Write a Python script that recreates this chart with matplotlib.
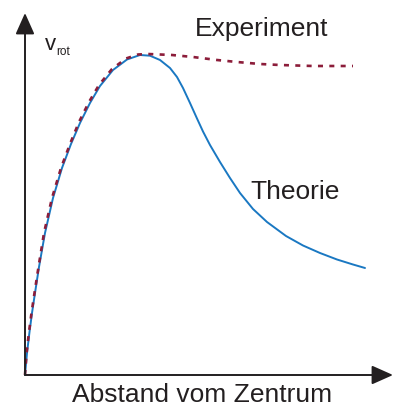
import matplotlib
import matplotlib.pyplot as plt
from matplotlib.patches import ArrowStyle

matplotlib.use("Agg")

plt.rcParams["font.family"] = ["Liberation Sans", "DejaVu Sans"]

W, H = 394, 408

# curve points (pixel positions, y down)
theorie_px = [
    (25, 375), (27, 353), (29.5, 332), (32, 313), (35, 293), (39, 267),
    (45, 233), (53, 198), (62, 168), (71, 144), (80, 123), (90, 103),
    (100, 86), (113, 70), (127, 59.5), (140, 55), (150, 55.7), (160, 60),
    (170, 68), (177, 77), (183, 88), (190, 103), (197, 118.5),
    (203, 131.5), (210, 145), (220, 162), (230, 178), (240, 193),
    (253, 209), (267, 222), (286, 236), (303, 245.5), (320, 253),
    (337, 259.5), (353, 264.5), (365, 268),
]
experiment_px = [
    (25, 375), (26.6, 353), (29, 332), (31.5, 313), (34.5, 293),
    (38.5, 267), (44, 233), (52, 198), (61, 168), (70, 144), (79, 122),
    (89, 102), (99, 85), (112, 69), (126, 58.5), (138, 54.5), (148, 54),
    (172, 55), (193, 57), (217, 60), (237, 62), (260, 64), (280, 65),
    (313, 66), (353, 66),
]

x0, y0 = 25, 375      # origin
x1, y1 = 393, 13      # arrow tips


def to_data(pts):
    xs = [(p[0] - x0) / (x1 - x0) * 10 for p in pts]
    ys = [(y0 - p[1]) / (y0 - y1) * 10 for p in pts]
    return xs, ys


fig = plt.figure(figsize=(W / 100, H / 100), dpi=100)
ax = fig.add_axes([x0 / W, 1 - y0 / H, (x1 - x0) / W, (y0 - y1) / H])
ax.set_xlim(0, 10)
ax.set_ylim(0, 10)
ax.axis("off")

tx, ty = to_data(theorie_px)
ex, ey = to_data(experiment_px)

ax.plot(tx, ty, color="#1a78c2", lw=1.4, solid_capstyle="round",
        solid_joinstyle="round", clip_on=False)
ax.plot(ex, ey, color="#8c1d3a", lw=1.9, dashes=(1.9, 2.4),
        dash_capstyle="butt", clip_on=False)

# axes with arrows
axis_col = "#231f20"
style = ArrowStyle("-|>", head_length=13, head_width=5.8)
ax.annotate("", xy=(10, 0), xytext=(0, 0),
            arrowprops=dict(arrowstyle=style, mutation_scale=1, color=axis_col,
                            lw=1.4, shrinkA=0, shrinkB=0), annotation_clip=False)
ax.annotate("", xy=(0, 10), xytext=(0, 0),
            arrowprops=dict(arrowstyle=style, mutation_scale=1, color=axis_col,
                            lw=1.4, shrinkA=0, shrinkB=0), annotation_clip=False)

# labels
txt_col = "#231f20"
fig.text(45 / W, 1 - 50 / H, "v", fontsize=16, color=txt_col, va="baseline")
fig.text(56 / W, 1 - 55 / H, "rot", fontsize=8.6, color=txt_col, va="baseline")
fig.text(195 / W, 1 - 36 / H, "Experiment", fontsize=19, color=txt_col, va="baseline")
fig.text(250 / W, 1 - 199 / H, "Theorie", fontsize=19, color=txt_col, va="baseline")
fig.text(72 / W, 1 - 402 / H, "Abstand vom Zentrum", fontsize=19, color=txt_col,
         va="baseline")

fig.savefig("out.png", dpi=100)
plt.close(fig)
